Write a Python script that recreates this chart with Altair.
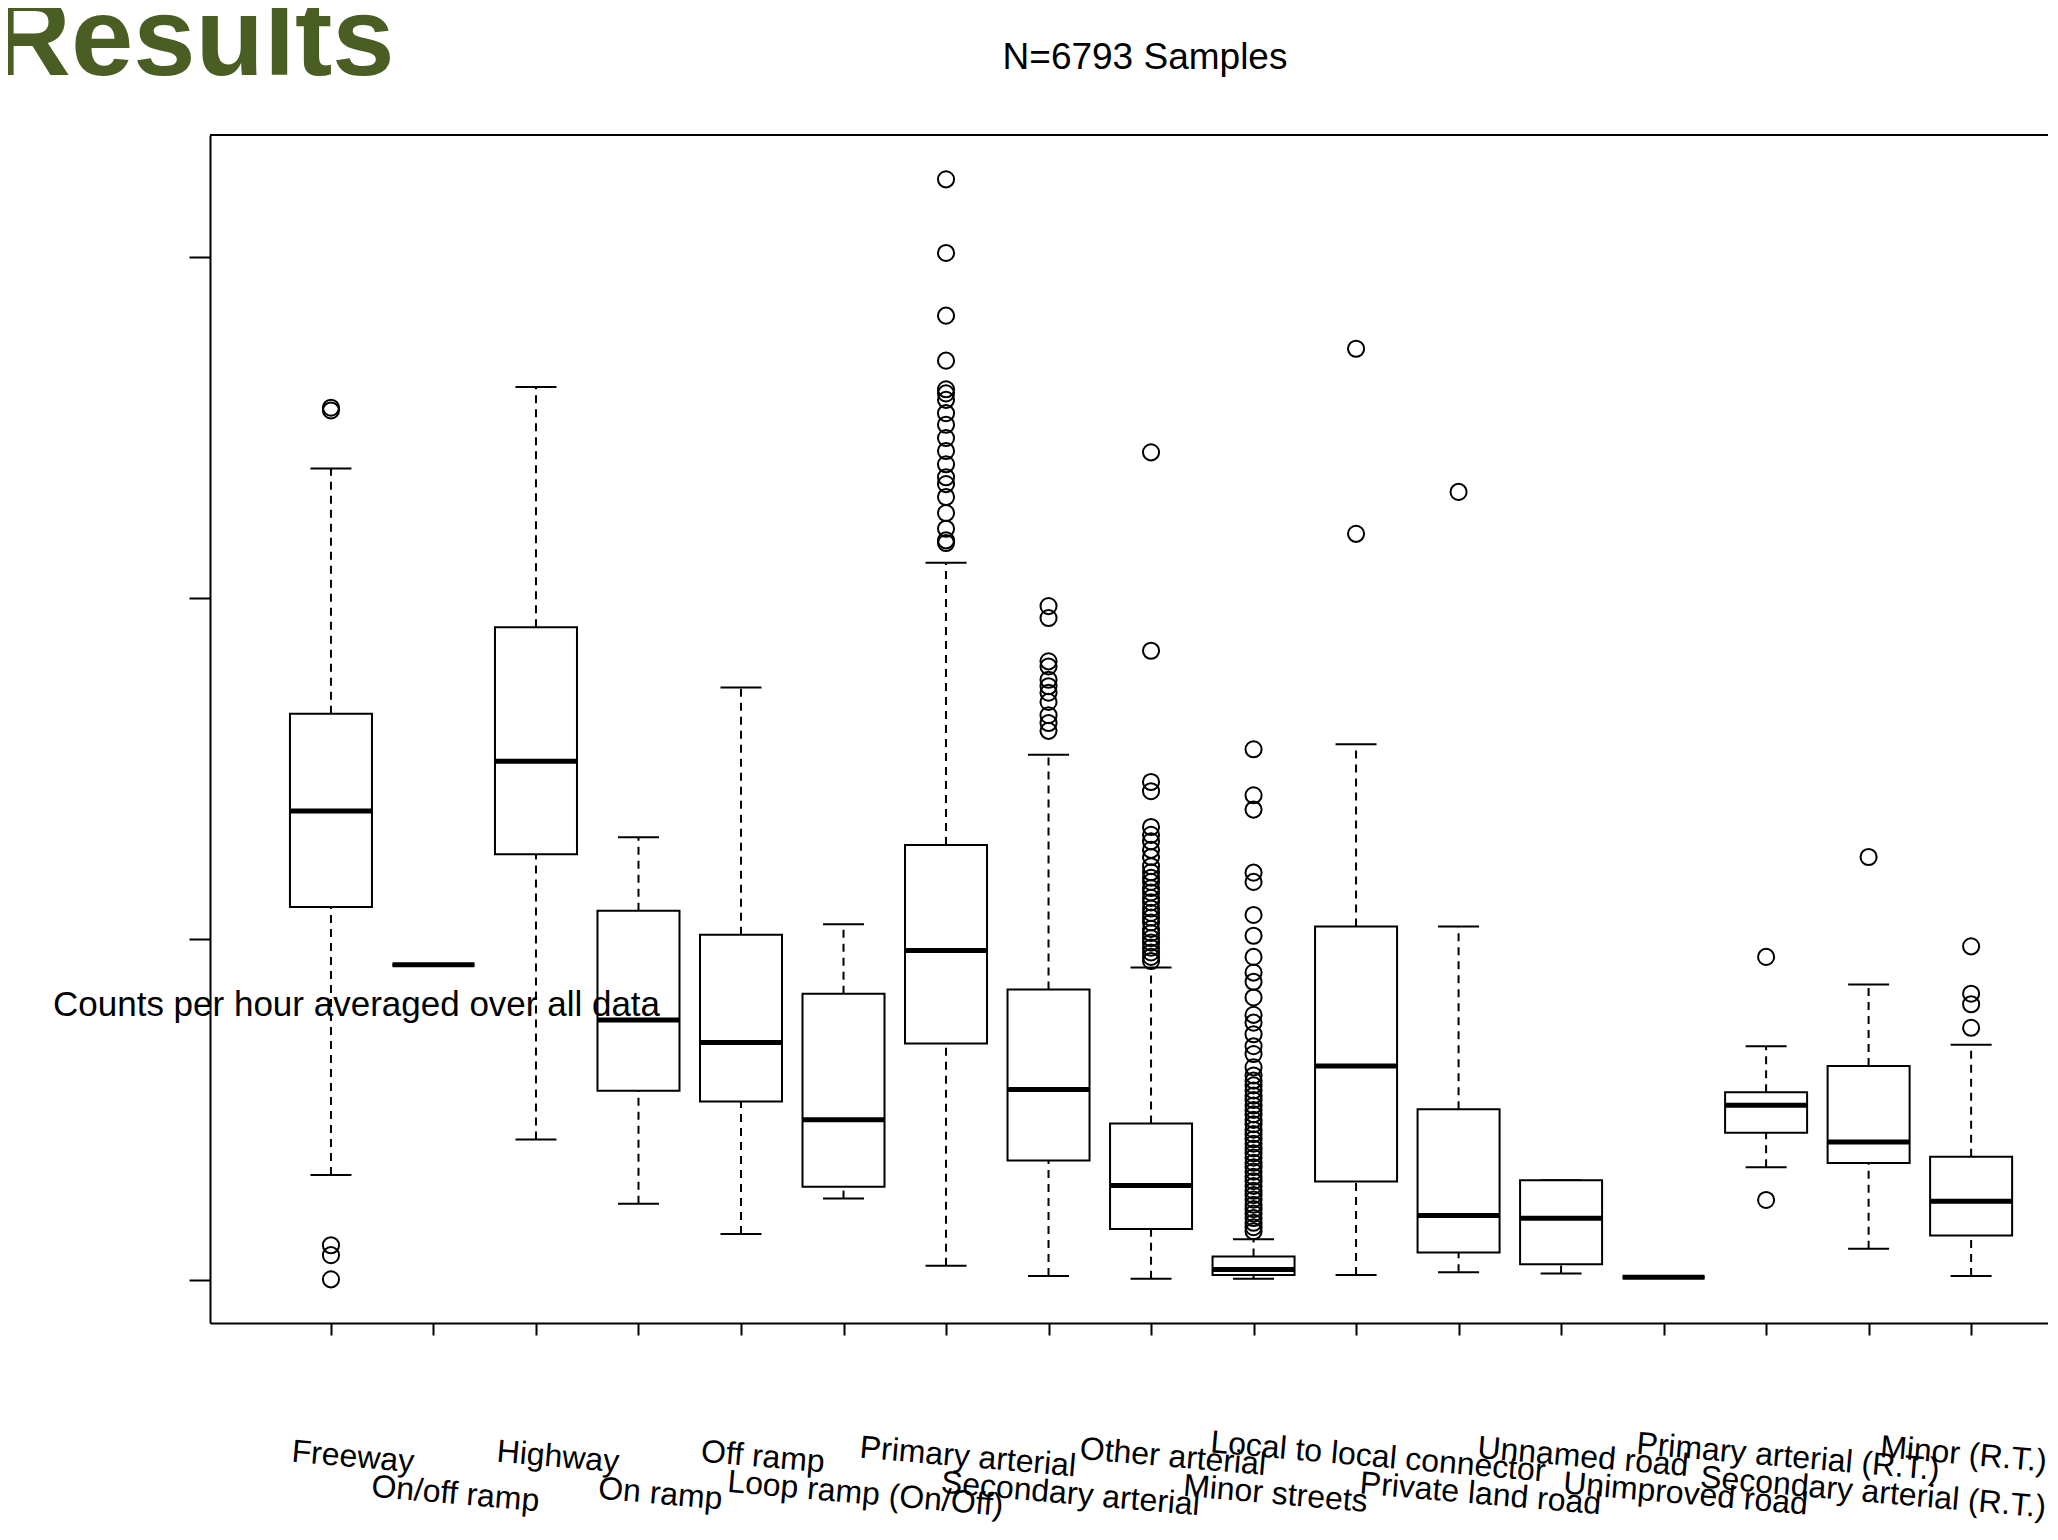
import altair as alt
import pandas as pd

categories = ["Freeway", "On/off ramp", "Highway", "On ramp", "Off ramp",
              "Loop ramp (On/Off)", "Primary arterial", "Secondary arterial",
              "Other arterial", "Minor streets", "Local to local connector",
              "Private land road", "Unnamed road", "Unimproved road",
              "Primary arterial (R.T.)", "Secondary arterial (R.T.)", "Minor (R.T.)"]

whisker_low = [308, 925, 412, 224, 135, 239, 42, 12, 4, 4, 15, 23, 19, 8, 331, 92, 12]
q1 = [1094, 925, 1249, 555, 524, 274, 694, 351, 150, 15, 289, 81, 46, 8, 432, 343, 131]
median = [1376, 925, 1522, 763, 697, 470, 967, 559, 277, 31, 628, 189, 181, 8, 513, 405, 231]
q3 = [1661, 925, 1915, 1083, 1013, 840, 1276, 852, 459, 69, 1037, 501, 293, 8, 551, 628, 362]
whisker_high = [2381, 925, 2620, 1299, 1738, 1044, 2104, 1541, 917, 120, 1572, 1037, 293, 8, 686, 867, 690]

outliers = [
    [2559, 2551, 102, 73, 2],
    [],
    [],
    [],
    [],
    [],
    [3229, 3013, 2829, 2697, 2613, 2601, 2582, 2543, 2509, 2470, 2432, 2393,
     2355, 2335, 2297, 2250, 2204, 2170, 2162],
    [1977, 1942, 1815, 1800, 1761, 1742, 1723, 1696, 1657, 1634, 1611],
    [2428, 1846, 1461, 1434, 1329, 1306, 1287, 1262, 1241, 1214, 1196, 1180,
     1168, 1150, 1137, 1121, 1108, 1090, 1077, 1063, 1049, 1030, 1018, 1003,
     990, 975, 961, 948, 936],
    [1557, 1422, 1380, 1195, 1168, 1071, 1010, 948, 902, 875, 829, 778, 755,
     721, 686, 663, 624, 600, 585, 571, 556, 541, 528, 512, 499, 486, 470,
     457, 441, 428, 413, 400, 386, 372, 359, 344, 331, 318, 303, 290, 276,
     262, 249, 236, 221, 208, 195, 182, 168, 155, 143],
    [2732, 2189],
    [2312],
    [],
    [],
    [948, 235],
    [1241],
    [979, 840, 809, 740],
]

title_text = "Results"
subtitle_text = "N=6793 Samples"
y_title_text = "Counts per hour averaged over all data"

W = 1838
H = 1188

boxes = pd.DataFrame({
    "idx": list(range(1, len(categories) + 1)),
    "category": categories,
    "wlo": whisker_low, "q1": q1, "med": median, "q3": q3, "whi": whisker_high,
})
out_rows = [{"idx": i + 1, "value": v} for i, vals in enumerate(outliers) for v in vals]
outs = pd.DataFrame(out_rows)

xscale = alt.Scale(domain=[-0.18, 17.75], nice=False, zero=False)
yscale = alt.Scale(domain=[-126, 3359], nice=False, zero=False)
xaxis = alt.Axis(values=list(range(1, 18)), labels=False, ticks=True, tickSize=12,
                 tickWidth=2, tickColor="black", domainColor="black", domainWidth=2,
                 grid=False, title=None)
yaxis = alt.Axis(values=[0, 1000, 2000, 3000], labels=False, ticks=True, tickSize=21,
                 tickWidth=2, tickColor="black", domainColor="black", domainWidth=2,
                 grid=False, title=None)

base = alt.Chart(boxes).transform_calculate(
    b_lo="datum.idx - 0.4", b_hi="datum.idx + 0.4",
    s_lo="datum.idx - 0.2", s_hi="datum.idx + 0.2",
)

whisk_up = base.mark_rule(color="black", strokeWidth=2, strokeDash=[8, 6]).encode(
    x=alt.X("idx:Q", scale=xscale, axis=xaxis),
    y=alt.Y("q3:Q", scale=yscale, axis=yaxis),
    y2="whi:Q",
)
whisk_dn = base.mark_rule(color="black", strokeWidth=2, strokeDash=[8, 6]).encode(
    x=alt.X("idx:Q", scale=xscale, axis=xaxis),
    y=alt.Y("wlo:Q", scale=yscale, axis=yaxis),
    y2="q1:Q",
)
staple_up = base.mark_rule(color="black", strokeWidth=2).encode(
    x=alt.X("s_lo:Q", scale=xscale, axis=xaxis), x2="s_hi:Q",
    y=alt.Y("whi:Q", scale=yscale, axis=yaxis),
)
staple_dn = base.mark_rule(color="black", strokeWidth=2).encode(
    x=alt.X("s_lo:Q", scale=xscale, axis=xaxis), x2="s_hi:Q",
    y=alt.Y("wlo:Q", scale=yscale, axis=yaxis),
)
box = base.mark_rect(fill="white", stroke="black", strokeWidth=2).encode(
    x=alt.X("b_lo:Q", scale=xscale, axis=xaxis), x2="b_hi:Q",
    y=alt.Y("q1:Q", scale=yscale, axis=yaxis), y2="q3:Q",
)
med = base.mark_rule(color="black", strokeWidth=5).encode(
    x=alt.X("b_lo:Q", scale=xscale, axis=xaxis), x2="b_hi:Q",
    y=alt.Y("med:Q", scale=yscale, axis=yaxis),
)
pts = alt.Chart(outs).mark_point(shape="circle", filled=False, size=260, strokeWidth=2,
                                 color="black", opacity=1).encode(
    x=alt.X("idx:Q", scale=xscale, axis=xaxis),
    y=alt.Y("value:Q", scale=yscale, axis=yaxis),
)

lab_font = "Liberation Sans"


def label_layer(cond, y, align="center", dx=22):
    return alt.Chart(boxes).transform_filter(cond).mark_text(
        font=lab_font, fontSize=32, angle=5, align=align, baseline="middle", dx=dx,
        color="black").encode(
        x=alt.X("idx:Q", scale=xscale, axis=xaxis), y=alt.value(y), text="category:N")


labels_a = label_layer("datum.idx % 2 == 1 && datum.idx < 17", 1320)
labels_b = label_layer("datum.idx % 2 == 0 && datum.idx < 16", 1357)
labels_16 = label_layer("datum.idx == 16", 1357, align="right", dx=178)
labels_17 = label_layer("datum.idx == 17", 1320, align="right", dx=76)

one = pd.DataFrame({"t": [title_text], "s": [subtitle_text], "y": [y_title_text]})
top_border = alt.Chart(one).mark_rule(color="black", strokeWidth=2).encode(
    x=alt.value(0), x2=alt.value(W), y=alt.value(0))
big_title = alt.Chart(one).mark_text(font=lab_font, fontWeight="bold", fontSize=112,
                                     color="#4a5e23", align="left",
                                     baseline="alphabetic").encode(
    x=alt.value(-220), y=alt.value(-60), text="t:N")
sub_title = alt.Chart(one).mark_text(font=lab_font, fontSize=37, color="black",
                                     align="center", baseline="middle").encode(
    x=alt.value(935), y=alt.value(-77), text="s:N")
y_title = alt.Chart(one).mark_text(font=lab_font, fontSize=35, color="black",
                                   align="left", baseline="middle").encode(
    x=alt.value(-157), y=alt.value(870), text="y:N")

chart = alt.layer(
    whisk_up, whisk_dn, staple_up, staple_dn, box, med, pts,
    labels_a, labels_b, labels_16, labels_17, top_border, big_title, sub_title, y_title,
).properties(
    width=W, height=H,
    autosize=alt.AutoSizeParams(type="none"),
    padding={"left": 202, "top": 127, "right": 0, "bottom": 205},
).configure_view(stroke=None).configure(background="white")

chart.save("out.html", embed_options={"renderer": "svg", "actions": False})
